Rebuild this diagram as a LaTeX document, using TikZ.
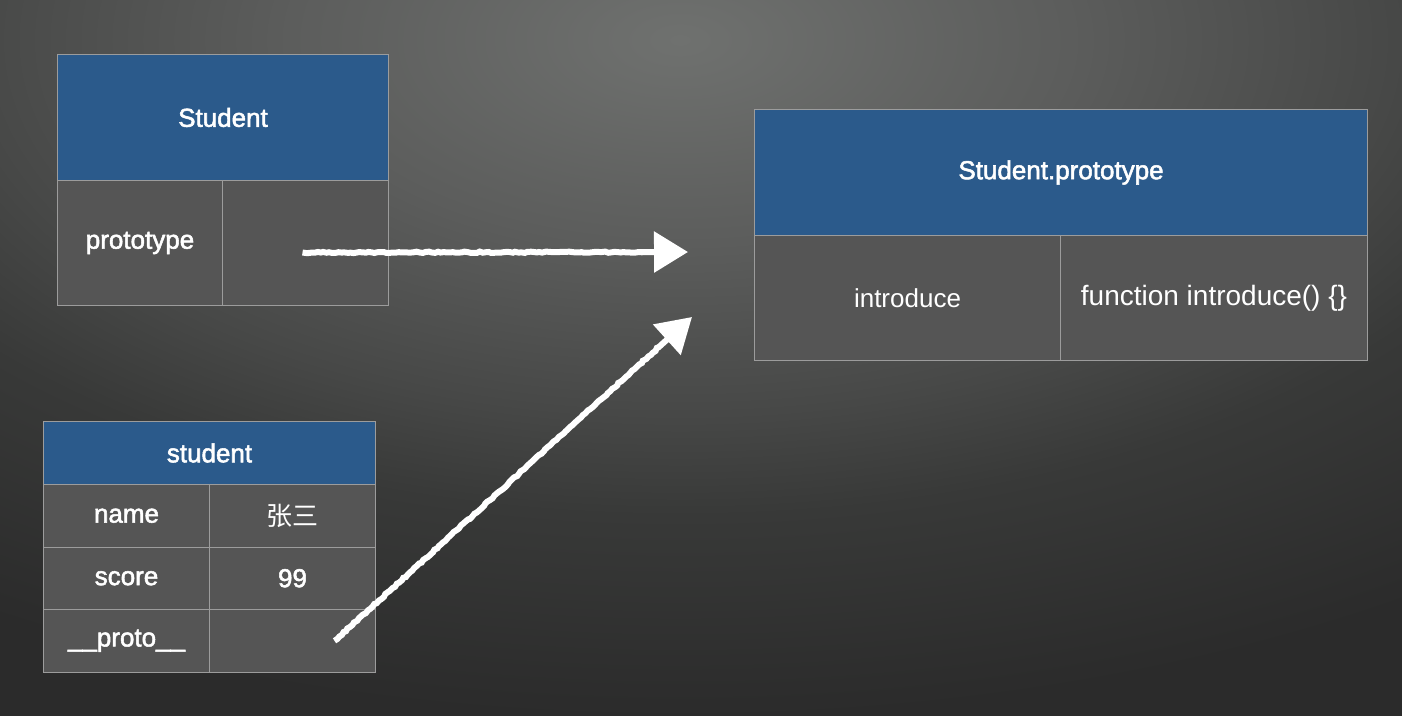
\documentclass[tikz,border=0pt]{standalone}
\usepackage{fontspec}
\setmainfont{Liberation Sans}
\newfontfamily\medfont{Liberation Sans}[FakeBold=2]
\newfontfamily\cjk{Noto Sans CJK SC}
\usetikzlibrary{arrows.meta,decorations.pathmorphing}
\definecolor{bgin}{HTML}{6F716F}
\definecolor{bgmid}{HTML}{5C5D5C}
\definecolor{bglow}{HTML}{474847}
\definecolor{bgdark}{HTML}{383938}
\definecolor{bgout}{HTML}{2B2B2B}
\definecolor{headblue}{HTML}{2B5A8B}
\definecolor{cellgray}{HTML}{555555}
\definecolor{rulegray}{HTML}{9C9C9C}
\pgfdeclareradialshading{bgshade}{\pgfpointorigin}{color(0bp)=(bgin); color(6bp)=(bgmid);
  color(11bp)=(bglow); color(14bp)=(bgdark); color(20bp)=(bgout); color(50bp)=(bgout)}
\tikzset{
  box/.style={draw=rulegray,line width=1pt,anchor=north west,inner sep=0pt,text=white,font=\fontsize{26}{31}\selectfont},
  head/.style={box,fill=headblue,font=\medfont\fontsize{26}{31}\selectfont},
  cell/.style={box,fill=cellgray},
  key/.style={cell,font=\medfont\fontsize{26}{31}\selectfont},
  chalk/.style={white,line width=6pt,-{Triangle[length=34pt,width=40pt]},decorate,
    decoration={random steps,segment length=3pt,amplitude=0.7pt,post length=45pt}}
}
\begin{document}
\begin{tikzpicture}[x=1pt,y=-1pt]
  \useasboundingbox (0,0) rectangle (1402,715);
  \fill[bgout] (0,0) rectangle (1402,715);
  \begin{scope}
    \clip (0,0) rectangle (1402,715);
    \shade[shading=bgshade] (680,40) ellipse (1625pt and 850pt);
  \end{scope}
  % Student
  \node[head,minimum width=331pt,minimum height=126pt] (cls) at (57,54) {Student};
  \node[key,minimum width=165pt,minimum height=125pt] (clsproto) at (57,180) {prototype};
  \node[cell,minimum width=166pt,minimum height=125pt] (clsval) at (222,180) {};
  % Student.prototype
  \node[head,minimum width=613pt,minimum height=126pt] (pro) at (754,109) {Student.prototype};
  \node[cell,minimum width=306pt,minimum height=125pt] (prointro) at (754,235) {introduce};
  \node[cell,minimum width=307pt,minimum height=125pt,font=\fontsize{28}{33}\selectfont] (proval) at (1060,235) {function introduce() \{\}};
  % student
  \node[head,minimum width=332pt,minimum height=63pt] (obj) at (43,421) {student};
  \foreach \y/\k/\v/\n in {484/name/{\cjk 张三}/name, 546.5/score/99/score, 609/\_\_proto\_\_/{}/proto}{
    \node[key,minimum width=166pt,minimum height=62.5pt] (obj\n) at (43,\y) {\k};
    \node[key,minimum width=166pt,minimum height=62.5pt] (objv\n) at (209,\y) {\v};
  }
  % arrows
  \coordinate (tipA) at (688,252);
  \coordinate (tipB) at (692,317);
  \draw[chalk] ([xshift=-3pt,yshift=-9.5pt]clsval.center) -- (tipA);
  \draw[chalk] ([xshift=42pt]objvproto.center) -- (tipB);
\end{tikzpicture}
\end{document}
